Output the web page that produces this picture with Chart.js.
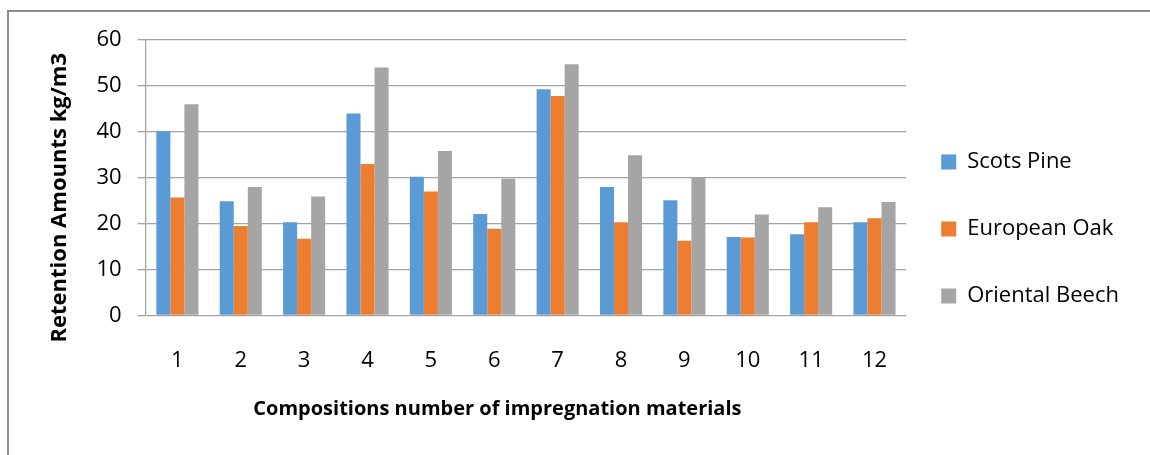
<!DOCTYPE html>
<html>
<head>
<meta charset="utf-8">
<script src="https://cdn.jsdelivr.net/npm/chart.js@4"></script>
<style>
  body { margin: 0; background: #fff; }
  #frame { position: absolute; left: 7px; top: 10px; width: 1200px; height: 500px;
           border-left: 2px solid #8c8c8c; border-top: 2px solid #8c8c8c; }
  #box { position: absolute; left: 0; top: 0; width: 1150px; height: 455px; }
</style>
</head>
<body>
<div id="frame"></div>
<div id="box"><canvas id="bar-chart"></canvas></div>
<script>
var compositions = ['1', '2', '3', '4', '5', '6', '7', '8', '9', '10', '11', '12'];
var scotsPine = [40.2, 24.9, 20.3, 44.0, 30.2, 22.1, 49.3, 28.0, 25.1, 17.1, 17.7, 20.3];
var europeanOak = [25.7, 19.5, 16.7, 33.0, 27.0, 18.9, 47.8, 20.3, 16.3, 17.0, 20.3, 21.2];
var orientalBeech = [46.0, 28.0, 25.9, 54.0, 35.8, 29.8, 54.7, 34.9, 30.0, 22.0, 23.6, 24.7];
var yTicks = [0, 10, 20, 30, 40, 50, 60];

var font = "'Open Sans', sans-serif";
var gridGray = '#a3a3a3';

// pull the legend a little closer to the plot, like the original
var legendShift = {
  id: 'legendShift',
  afterLayout: function(chart) {
    chart.legend.left -= 10;
    chart.legend.right -= 10;
  }
};

// titles sit off-centre in the original; trailing spaces nudge them
var pad = function(n) { return new Array(n + 1).join(' '); };

new Chart(document.getElementById('bar-chart'), {
  type: 'bar',
  data: {
    labels: compositions,
    datasets: [
      { label: 'Scots Pine', data: scotsPine, backgroundColor: '#5b9bd5' },
      { label: 'European Oak', data: europeanOak, backgroundColor: '#ed7d31' },
      { label: 'Oriental Beech', data: orientalBeech, backgroundColor: '#a5a5a5' }
    ]
  },
  plugins: [legendShift],
  options: {
    responsive: true,
    maintainAspectRatio: false,
    animation: false,
    datasets: {
      bar: { categoryPercentage: 0.664, barPercentage: 1 }
    },
    layout: {
      padding: { top: 40, bottom: 37, left: 0, right: 11 }
    },
    plugins: {
      legend: {
        position: 'right',
        labels: {
          font: { family: font, size: 22 },
          color: '#000',
          boxWidth: 15,
          boxHeight: 15,
          padding: 45
        }
      },
      tooltip: { enabled: false }
    },
    scales: {
      x: {
        grid: { display: false, drawTicks: false },
        border: { display: false },
        ticks: { font: { family: font, size: 22 }, color: '#000', padding: 32 },
        title: {
          display: true,
          text: 'Compositions number of impregnation materials' + pad(11),
          font: { family: font, size: 20, weight: 'bold' },
          color: '#000',
          padding: { top: 0, bottom: -3 }
        },
        afterFit: function(scale) { scale.height = 102.5; }
      },
      y: {
        min: 0,
        max: 60,
        afterBuildTicks: function(scale) {
          scale.ticks = yTicks.map(function(v) { return { value: v }; });
        },
        grid: { color: gridGray, lineWidth: 1.3, tickLength: 8 },
        border: { display: true, color: gridGray, width: 1.3 },
        ticks: { font: { family: font, size: 22 }, color: '#000', padding: 16 },
        title: {
          display: true,
          text: 'Retention Amounts kg/m3' + pad(7),
          font: { family: font, size: 22, weight: 'bold' },
          color: '#000',
          padding: { top: 47, bottom: 0 }
        },
        afterFit: function(scale) { scale.width = 145.7; }
      }
    }
  }
});
</script>
</body>
</html>
